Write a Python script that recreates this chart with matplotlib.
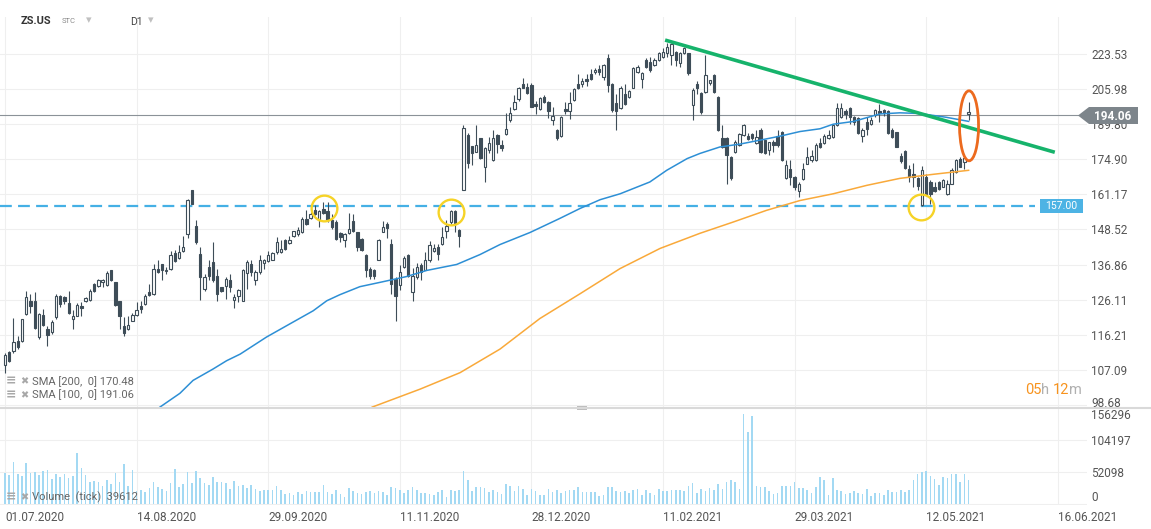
import numpy as np
import matplotlib
matplotlib.use('Agg')
import matplotlib.pyplot as plt
from matplotlib.patches import Ellipse, Polygon, Rectangle
from matplotlib.lines import Line2D
from matplotlib.transforms import ScaledTranslation
from matplotlib.ticker import NullLocator

plt.rcParams['font.family'] = ['Roboto', 'DejaVu Sans']
plt.rcParams['lines.scale_dashes'] = False

# ZS.US D1 candles (bar 0 = 01.07.2020)
opens = [108.4, 111.7, 111.8, 114.6, 114.6, 122.0, 125.8, 125.8, 115.5, 121.8,
         117.8, 117.0, 121.1, 127.3, 127.0, 125.1, 120.6, 121.5, 124.4, 125.6,
         126.0, 130.8, 130.3, 131.3, 130.5, 135.0, 131.3, 125.6, 118.7, 117.7,
         120.1, 121.8, 124.3, 124.9, 128.3, 127.8, 135.5, 136.9, 134.7, 135.5,
         140.7, 139.0, 141.1, 147.0, 162.7, 149.6, 140.4, 129.3, 136.2, 137.6,
         133.4, 129.8, 130.3, 132.1, 126.0, 127.3, 125.8, 134.1, 136.9, 132.1,
         134.4, 137.4, 138.0, 138.4, 140.9, 140.9, 145.0, 144.0, 146.4, 146.8,
         147.6, 152.3, 152.7, 155.6, 151.7, 155.7, 155.1, 151.7, 151.1, 147.3,
         145.0, 147.3, 151.4, 147.6, 145.3, 140.1, 135.5, 135.0, 138.4, 147.8,
         150.3, 143.6, 132.4, 130.6, 136.2, 140.1, 128.3, 133.0, 136.6, 135.2,
         138.2, 141.1, 142.7, 143.6, 148.1, 151.1, 155.1, 148.5, 163.0, 185.1,
         180.4, 178.0, 183.6, 171.8, 178.7, 174.5, 185.1, 180.8, 185.4, 191.7,
         196.5, 201.1, 208.2, 206.9, 207.9, 198.9, 196.5, 202.3, 200.0, 191.7,
         187.1, 184.8, 196.6, 195.8, 200.8, 208.2, 208.5, 211.0, 213.6, 214.2,
         215.8, 211.7, 221.3, 208.3, 199.6, 196.9, 203.6, 202.0, 206.6, 214.2,
         210.8, 220.4, 219.6, 217.9, 220.4, 222.1, 224.2, 223.0, 224.7, 219.1,
         223.9, 223.9, 198.4, 208.3, 204.2, 204.6, 208.7, 212.9, 202.3, 183.6,
         183.6, 175.9, 178.0, 180.8, 185.1, 184.6, 185.4, 181.5, 187.1, 182.9,
         178.7, 182.2, 184.6, 186.6, 167.3, 170.8, 167.9, 162.5, 166.9, 173.1,
         174.5, 174.5, 181.5, 181.5, 183.6, 184.3, 189.5, 192.9, 195.7, 196.9,
         192.9, 192.4, 184.6, 191.0, 190.1, 193.9, 195.8, 196.1, 195.8, 187.4,
         186.3, 176.2, 178.4, 170.8, 169.2, 167.5, 157.1, 167.9, 165.9, 164.0,
         165.9, 164.0, 161.2, 165.3, 169.8, 175.2, 173.8, 194.2]
highs = [111.5, 112.0, 120.8, 115.9, 120.7, 128.8, 127.8, 128.3, 122.4, 123.4,
         118.7, 120.3, 127.8, 127.6, 127.3, 128.8, 123.0, 125.1, 125.4, 127.0,
         129.3, 131.0, 132.4, 132.4, 134.7, 135.3, 131.5, 125.8, 121.1, 121.3,
         122.4, 125.4, 125.6, 127.8, 130.8, 137.1, 138.2, 137.1, 136.0, 141.4,
         141.7, 143.1, 146.4, 159.5, 163.0, 152.0, 142.5, 133.9, 138.2, 144.4,
         135.5, 130.0, 133.0, 133.9, 127.8, 129.3, 135.5, 138.2, 138.2, 135.0,
         139.8, 138.7, 141.4, 140.9, 146.1, 145.0, 145.2, 146.4, 148.1, 149.3,
         152.9, 155.3, 154.7, 157.1, 155.6, 158.4, 158.4, 154.1, 151.7, 147.6,
         147.3, 154.3, 154.1, 147.8, 145.7, 140.4, 136.0, 135.5, 145.3, 151.4,
         151.1, 145.3, 133.0, 136.6, 139.5, 140.3, 135.8, 137.3, 137.3, 140.9,
         144.5, 143.6, 143.6, 149.3, 151.7, 155.3, 155.3, 148.7, 189.4, 186.0,
         180.6, 189.4, 183.9, 180.0, 184.3, 187.4, 185.4, 182.9, 194.9, 197.6,
         203.1, 206.9, 211.6, 209.0, 209.0, 200.5, 202.0, 203.1, 200.5, 197.4,
         187.8, 193.5, 200.0, 204.4, 206.3, 213.6, 211.6, 213.6, 216.1, 216.4,
         217.9, 218.4, 223.5, 208.8, 203.8, 207.4, 208.2, 205.5, 216.8, 217.9,
         214.5, 221.3, 222.2, 221.3, 224.7, 226.5, 229.2, 229.5, 225.2, 224.7,
         227.4, 224.2, 206.3, 209.7, 204.6, 223.0, 210.6, 213.2, 202.7, 189.5,
         184.3, 176.2, 182.9, 185.8, 190.1, 185.8, 185.8, 187.4, 188.0, 183.0,
         182.2, 182.9, 187.1, 186.9, 174.8, 174.5, 168.2, 165.9, 173.4, 179.8,
         178.7, 181.5, 183.6, 185.5, 187.4, 189.8, 199.6, 199.4, 196.6, 197.6,
         193.5, 192.9, 188.3, 192.9, 193.2, 196.5, 198.9, 196.5, 196.1, 188.3,
         186.6, 177.3, 178.7, 172.5, 173.4, 167.9, 172.1, 168.9, 166.6, 165.9,
         166.3, 166.9, 166.6, 171.2, 175.2, 175.9, 175.9, 200.0]
lows = [106.4, 109.0, 111.5, 112.5, 114.4, 121.8, 122.4, 117.8, 115.1, 118.7,
        113.3, 116.4, 120.6, 123.9, 124.9, 122.0, 117.8, 121.3, 121.5, 125.4,
        125.8, 128.3, 129.8, 129.8, 130.3, 131.7, 124.4, 117.8, 115.9, 117.5,
        119.9, 121.5, 122.4, 124.6, 127.2, 127.6, 134.1, 132.1, 133.9, 135.3,
        137.7, 138.7, 140.9, 145.7, 157.5, 143.6, 126.0, 128.8, 131.9, 131.3,
        125.8, 128.3, 126.3, 128.3, 123.7, 125.4, 125.6, 129.3, 133.4, 130.5,
        133.9, 135.5, 137.6, 138.2, 140.4, 140.6, 141.7, 143.6, 146.1, 146.4,
        147.3, 150.0, 152.3, 153.5, 149.3, 154.1, 151.3, 148.7, 145.0, 144.1,
        142.7, 147.0, 147.6, 141.4, 141.4, 133.0, 132.4, 132.4, 138.2, 147.6,
        145.7, 127.8, 120.1, 129.0, 135.8, 133.0, 125.8, 132.4, 131.9, 135.0,
        137.6, 140.9, 138.2, 143.4, 145.7, 150.5, 147.6, 142.5, 162.7, 171.3,
        172.5, 177.7, 175.2, 165.9, 177.3, 174.2, 177.3, 178.4, 185.1, 190.6,
        196.1, 200.5, 206.3, 203.7, 197.4, 194.2, 196.1, 199.3, 192.4, 189.5,
        182.9, 184.3, 194.2, 192.0, 200.5, 205.9, 206.9, 207.4, 210.5, 213.4,
        212.9, 210.5, 204.4, 195.3, 187.4, 196.5, 198.4, 201.6, 206.3, 213.7,
        206.6, 216.3, 214.5, 217.4, 219.9, 221.3, 222.1, 217.9, 217.4, 216.8,
        223.5, 212.9, 191.5, 203.8, 194.2, 204.2, 207.9, 204.2, 186.8, 179.4,
        165.0, 166.6, 177.6, 180.6, 184.6, 182.9, 182.9, 181.2, 177.3, 177.0,
        176.6, 178.0, 180.0, 174.2, 166.9, 164.6, 163.0, 160.2, 166.6, 172.9,
        173.8, 174.2, 179.4, 181.2, 183.3, 184.0, 189.1, 192.4, 192.0, 189.8,
        189.5, 185.5, 182.2, 185.1, 189.5, 193.2, 191.0, 193.5, 185.5, 184.0,
        179.8, 173.4, 170.8, 165.9, 163.8, 163.0, 156.7, 160.8, 157.7, 162.2,
        162.7, 163.8, 160.8, 165.0, 169.4, 171.6, 170.8, 191.7]
closes = [110.9, 109.4, 114.3, 112.9, 120.6, 126.8, 124.4, 118.2, 122.0, 119.0,
          116.1, 119.8, 127.3, 124.9, 125.6, 122.4, 121.3, 124.6, 123.6, 126.6,
          128.8, 128.8, 132.1, 131.9, 134.3, 131.9, 124.7, 121.5, 116.6, 118.9,
          121.8, 123.2, 123.5, 127.3, 127.6, 135.5, 134.4, 135.2, 135.3, 139.8,
          138.0, 140.9, 142.7, 159.2, 157.7, 144.1, 133.0, 133.0, 133.4, 131.9,
          127.8, 128.8, 132.4, 130.0, 127.0, 129.0, 135.0, 137.6, 134.4, 134.4,
          138.2, 138.2, 140.1, 140.6, 144.1, 141.9, 141.9, 145.0, 147.9, 148.4,
          152.3, 150.5, 154.1, 154.1, 155.0, 154.5, 151.9, 149.3, 145.3, 145.9,
          146.8, 148.7, 147.9, 142.7, 141.7, 135.2, 133.4, 133.4, 145.0, 149.3,
          149.1, 130.8, 127.3, 134.4, 139.1, 133.2, 133.4, 136.0, 134.4, 138.2,
          143.1, 142.4, 140.4, 146.1, 149.6, 155.0, 150.7, 146.4, 188.0, 173.3,
          177.5, 180.8, 175.6, 179.4, 181.5, 183.6, 181.2, 179.4, 187.8, 194.9,
          200.0, 206.3, 206.6, 204.1, 197.6, 198.0, 201.6, 199.7, 195.8, 193.5,
          183.9, 193.2, 195.7, 199.6, 205.9, 206.3, 209.7, 209.7, 211.0, 215.4,
          214.1, 217.9, 208.0, 196.1, 195.8, 206.3, 198.9, 205.0, 216.3, 217.1,
          214.0, 216.8, 215.1, 220.4, 223.9, 224.7, 227.4, 228.8, 220.4, 224.2,
          226.5, 213.7, 205.5, 206.6, 195.3, 212.9, 210.3, 204.6, 187.1, 180.0,
          176.6, 167.3, 182.2, 185.4, 189.5, 183.2, 183.6, 184.3, 178.0, 177.3,
          182.0, 180.8, 180.8, 174.5, 172.5, 167.9, 164.0, 165.3, 170.8, 175.9,
          176.2, 180.8, 179.8, 184.6, 185.1, 189.5, 196.9, 196.9, 194.4, 193.2,
          191.0, 185.8, 187.1, 187.8, 191.7, 196.1, 194.7, 194.9, 186.1, 184.3,
          180.0, 174.2, 171.2, 167.9, 167.9, 164.3, 170.5, 161.4, 161.4, 162.5,
          163.4, 166.6, 165.3, 170.5, 174.5, 171.8, 175.5, 195.4]
volume = [49900, 47100, 68000, 48700, 45500, 66400, 50300, 51900, 47600, 53500,
          55200, 40700, 48700, 43900, 48700, 42300, 45500, 82500, 58400, 47600,
          35900, 37000, 35900, 29400, 39100, 33100, 50300, 35900, 64800, 29400,
          55200, 21400, 23000, 19800, 26200, 35900, 27800, 24600, 21400, 34300,
          56800, 27800, 32600, 51900, 34300, 53500, 42300, 34300, 31500, 43900,
          35900, 35900, 34300, 24600, 37500, 29400, 31000, 26200, 31000, 24600,
          21400, 23000, 23000, 23000, 29400, 23000, 16600, 18200, 15000, 19300,
          16100, 21400, 19800, 19800, 19300, 31000, 19300, 16600, 23000, 16600,
          11700, 26200, 21400, 18200, 16600, 19800, 21400, 18200, 21400, 19800,
          15000, 27800, 26200, 23000, 18200, 23000, 27800, 23000, 18200, 18200,
          16600, 15000, 19800, 23000, 11700, 23000, 21400, 23000, 53500, 39100,
          21400, 27800, 27800, 26200, 19800, 23000, 19800, 16600, 32600, 29400,
          21400, 29400, 24600, 15000, 24600, 21400, 15000, 15000, 24600, 19800,
          23000, 18200, 21400, 23000, 23000, 27800, 19800, 19800, 19800, 19800,
          13300, 15000, 27800, 27800, 21400, 19800, 21400, 18200, 23000, 24600,
          15000, 23000, 18200, 15000, 24600, 21400, 21400, 23000, 23000, 23000,
          21400, 29400, 34300, 18200, 24600, 21400, 26200, 23000, 32600, 24600,
          35900, 39100, 35900, 24600, 145200, 116300, 142000, 29400, 27800, 27800,
          21400, 16600, 18200, 29400, 29400, 29400, 35900, 26200, 26200, 23000,
          18200, 27800, 43900, 39100, 15000, 42300, 23000, 21400, 16600, 18200,
          21400, 18200, 16600, 24600, 13300, 18200, 18200, 15000, 23000, 19800,
          19800, 23000, 19800, 23000, 39100, 48700, 51900, 53500, 45500, 40700,
          31000, 43900, 42300, 48700, 48700, 35900, 48700, 39100]

# moving averages (bar index, value)
sma100_idx = [36.5, 41.2, 44.3, 49.0, 52.2, 55.4, 61.6, 67.1, 72.6, 75.8, 78.9, 83.6,
              88.3, 94.6, 99.3, 106.4, 111.9, 116.6, 123.7, 130.7, 135.5, 140.2,
              144.9, 151.9, 155.9, 160.7, 163.7, 168.4, 173.1, 177.9, 182.6, 187.3,
              192.0, 195.1, 199.8, 206.1, 210.8, 215.5, 221.7, 227]
sma100_val = [98.2, 101.4, 104.5, 107.3, 109.4, 111.1, 115.6, 119.2, 122.9, 125.8, 127.6,
              130.0, 131.3, 133.1, 135.0, 136.9, 140.1, 143.4, 147.5, 152.4, 156.0,
              159.2, 161.4, 165.9, 170.5, 175.2, 177.3, 180.0, 181.2, 182.9, 184.6,
              186.6, 187.8, 189.8, 191.0, 194.4, 194.9, 194.6, 192.9, 191.06]
sma200_idx = [86.5, 97.8, 107.2, 116.6, 126.0, 135.5, 144.9, 154.3, 163.7, 171.5,
              179.4, 187.3, 195.1, 203.0, 210.8, 218.7, 227]
sma200_val = [98.2, 102.4, 106.4, 112.4, 120.7, 127.9, 135.6, 142.1, 147.2, 151.1,
              155.3, 158.9, 161.4, 164.6, 167.3, 168.9, 170.48]

price_levels = [223.53, 205.98, 189.80, 174.90, 161.17, 148.52, 136.86, 126.11,
                116.21, 107.09, 98.68]
vol_levels = [0, 52098, 104197, 156296]
date_idx = [0, 31, 62, 93, 124, 155, 186, 217, 248]
date_labels = ['01.07.2020', '14.08.2020', '29.09.2020', '11.11.2020', '28.12.2020',
               '11.02.2021', '29.03.2021', '12.05.2021', '16.06.2021']

support = 157.00
last_price = 194.06
trend_idx = [155.5, 247.3]
trend_val = [230.9, 177.8]
circle_idx = [75.1, 105.0, 215.8]
circle_val = [156.2, 154.6, 156.5]

DARK = '#3e4d58'
GRID = '#efefef'
TXT = '#555555'

W, H = 1151, 529
fig = plt.figure(figsize=(W / 100, H / 100), dpi=100)
fx = lambda px: px / W
fy = lambda py: 1 - py / H

ax = fig.add_axes([0, fy(407), fx(1087), fy(17) - fy(407)])
axv = fig.add_axes([0, fy(505), fx(1087), fy(407) - fy(505)], sharex=ax)

o, h, l, c = map(np.array, (opens, highs, lows, closes))
idx = np.arange(len(c))
up = c >= o

ax.set_yscale('log')
ax.set_xlim(-5 / 4.245, (1087 - 5) / 4.245)
ax.set_ylim(98.22, 243.65)

# candles
ax.vlines(idx, l, h, color=DARK, lw=0.8, zorder=3)
body = np.maximum(np.abs(c - o), 0.25)
ax.bar(idx, body, bottom=np.minimum(o, c), width=0.55,
       color=np.where(up, 'white', DARK), edgecolor=DARK, linewidth=0.8, zorder=4)

# SMAs
ax.plot(sma100_idx, sma100_val, color='#2d8fd5', lw=1.1, zorder=5)
ax.plot(sma200_idx, sma200_val, color='#f9a93a', lw=1.1, zorder=5)

# lines
x_left = ax.get_xlim()[0]
ax.plot([x_left, 242.6], [support, support], color='#45b0e5', lw=1.6,
        dashes=(8.5, 4.5), zorder=2)
ax.plot([x_left, 252.8], [last_price, last_price], color='#8b9298', lw=0.8, zorder=2)
ax.plot(trend_idx, trend_val, color='#16b36b', lw=2.6, solid_capstyle='butt', zorder=6)

# highlights
ax.plot(circle_idx, circle_val, 'o', ms=18.5, mfc='none', mec='#f6d327', mew=1.7, zorder=7)
ell = Ellipse((0, 0), 0.19, 0.70, fill=False, ec='#ec6a1e', lw=2.0, zorder=7,
              transform=fig.dpi_scale_trans + ScaledTranslation(227.1, 189.1, ax.transData))
ax.add_patch(ell)

# price axis
ax.yaxis.tick_right()
ax.set_yticks(price_levels)
ax.set_yticklabels([f'{v:.2f}' for v in price_levels])
ax.yaxis.set_minor_locator(NullLocator())
ax.tick_params(axis='y', length=0, pad=3, labelsize=8.5, labelcolor=TXT)
lab = ax.get_yticklabels()[-1]
lab.set_transform(lab.get_transform() + ScaledTranslation(0, 0.03, fig.dpi_scale_trans))
ax.set_xticks(date_idx)
ax.tick_params(axis='x', length=0, labelbottom=False)
ax.grid(True, color=GRID, lw=0.8)
ax.set_axisbelow(True)
for s in ax.spines.values():
    s.set_visible(False)

# volume
axv.bar(idx, volume, width=0.38, color='#a3d9f3', zorder=3)
axv.set_ylim(-1100, 156600)
axv.yaxis.tick_right()
axv.set_yticks(vol_levels)
axv.set_yticklabels([str(v) for v in vol_levels])
axv.tick_params(axis='y', length=0, pad=3, labelsize=8.5, labelcolor=TXT)
ylab = axv.get_yticklabels()
ylab[0].set_va('bottom')
ylab[-1].set_va('top')
ylab[-1].set_transform(ylab[-1].get_transform()
                       + ScaledTranslation(0, -0.02, fig.dpi_scale_trans))
axv.set_xticks(date_idx)
axv.set_xticklabels(date_labels)
axv.tick_params(axis='x', length=0, pad=4, labelsize=8.5, labelcolor=TXT)
for lb in axv.get_xticklabels():
    lb.set_ha('left')
axv.grid(True, color=GRID, lw=0.8)
axv.set_axisbelow(True)
for s in axv.spines.values():
    s.set_visible(False)

# panel separator
fig.add_artist(Line2D([0, 1], [fy(407.5)] * 2, color='#d9d9d9', lw=1.5))
fig.add_artist(Rectangle((fx(577), fy(409.5)), fx(10), fy(406) - fy(409.5),
                         color='#bdbdbd', lw=0))

# price tags
fig.add_artist(Polygon([(fx(1078), fy(115.5)), (fx(1089), fy(107)), (fx(1138), fy(107)),
                        (fx(1138), fy(124)), (fx(1089), fy(124))],
                       closed=True, color='#7d858b', lw=0, zorder=10))
fig.text(fx(1113), fy(116), f'{last_price:.2f}', color='white', fontsize=8.5,
         fontweight='bold', ha='center', va='center', zorder=11)
fig.add_artist(Rectangle((fx(1040), fy(213)), fx(43), fy(199) - fy(213),
                         color='#4db3e4', lw=0, zorder=10))
fig.text(fx(1061.5), fy(206.3), f'{support:.2f}', color='white', fontsize=7.5,
         ha='center', va='center', zorder=11)

# countdown
for px, s, col in [(1025, '05', '#f7931e'), (1041, 'h', '#b0b0b0'),
                   (1053, '12', '#f7931e'), (1069, 'm', '#b0b0b0')]:
    fig.text(fx(px), fy(393.5), s, color=col, fontsize=10.5, ha='left', va='baseline')

# header
fig.text(fx(21), fy(21), 'ZS.US', color='#333333', fontsize=8, fontweight='bold', va='center')
fig.text(fx(62), fy(21), 'STC', color='#8a8a8a', fontsize=5.5, va='center')
fig.text(fx(86), fy(20), '▾', color='#c0c0c0', fontsize=8, va='center',
         family='DejaVu Sans')
fig.text(fx(130), fy(21.5), 'D1', color='#444444', fontsize=7.5, va='center')
fig.text(fx(148), fy(20), '▾', color='#c0c0c0', fontsize=8, va='center',
         family='DejaVu Sans')

# indicator legends
for py, s in [(381.5, 'SMA [200,  0] 170.48'), (395, 'SMA [100,  0] 191.06'),
              (497.5, 'Volume  (tick)  39612')]:
    fig.text(fx(6), fy(py), '≡', color='#a8a8a8', fontsize=9, fontweight='bold',
             va='center', family='DejaVu Sans')
    fig.text(fx(20), fy(py), '✖', color='#a8a8a8', fontsize=7, va='center',
             family='DejaVu Sans')
    fig.text(fx(32), fy(py), s, color='#666666', fontsize=8, va='center')

fig.savefig('out.png', dpi=100, facecolor='white')
